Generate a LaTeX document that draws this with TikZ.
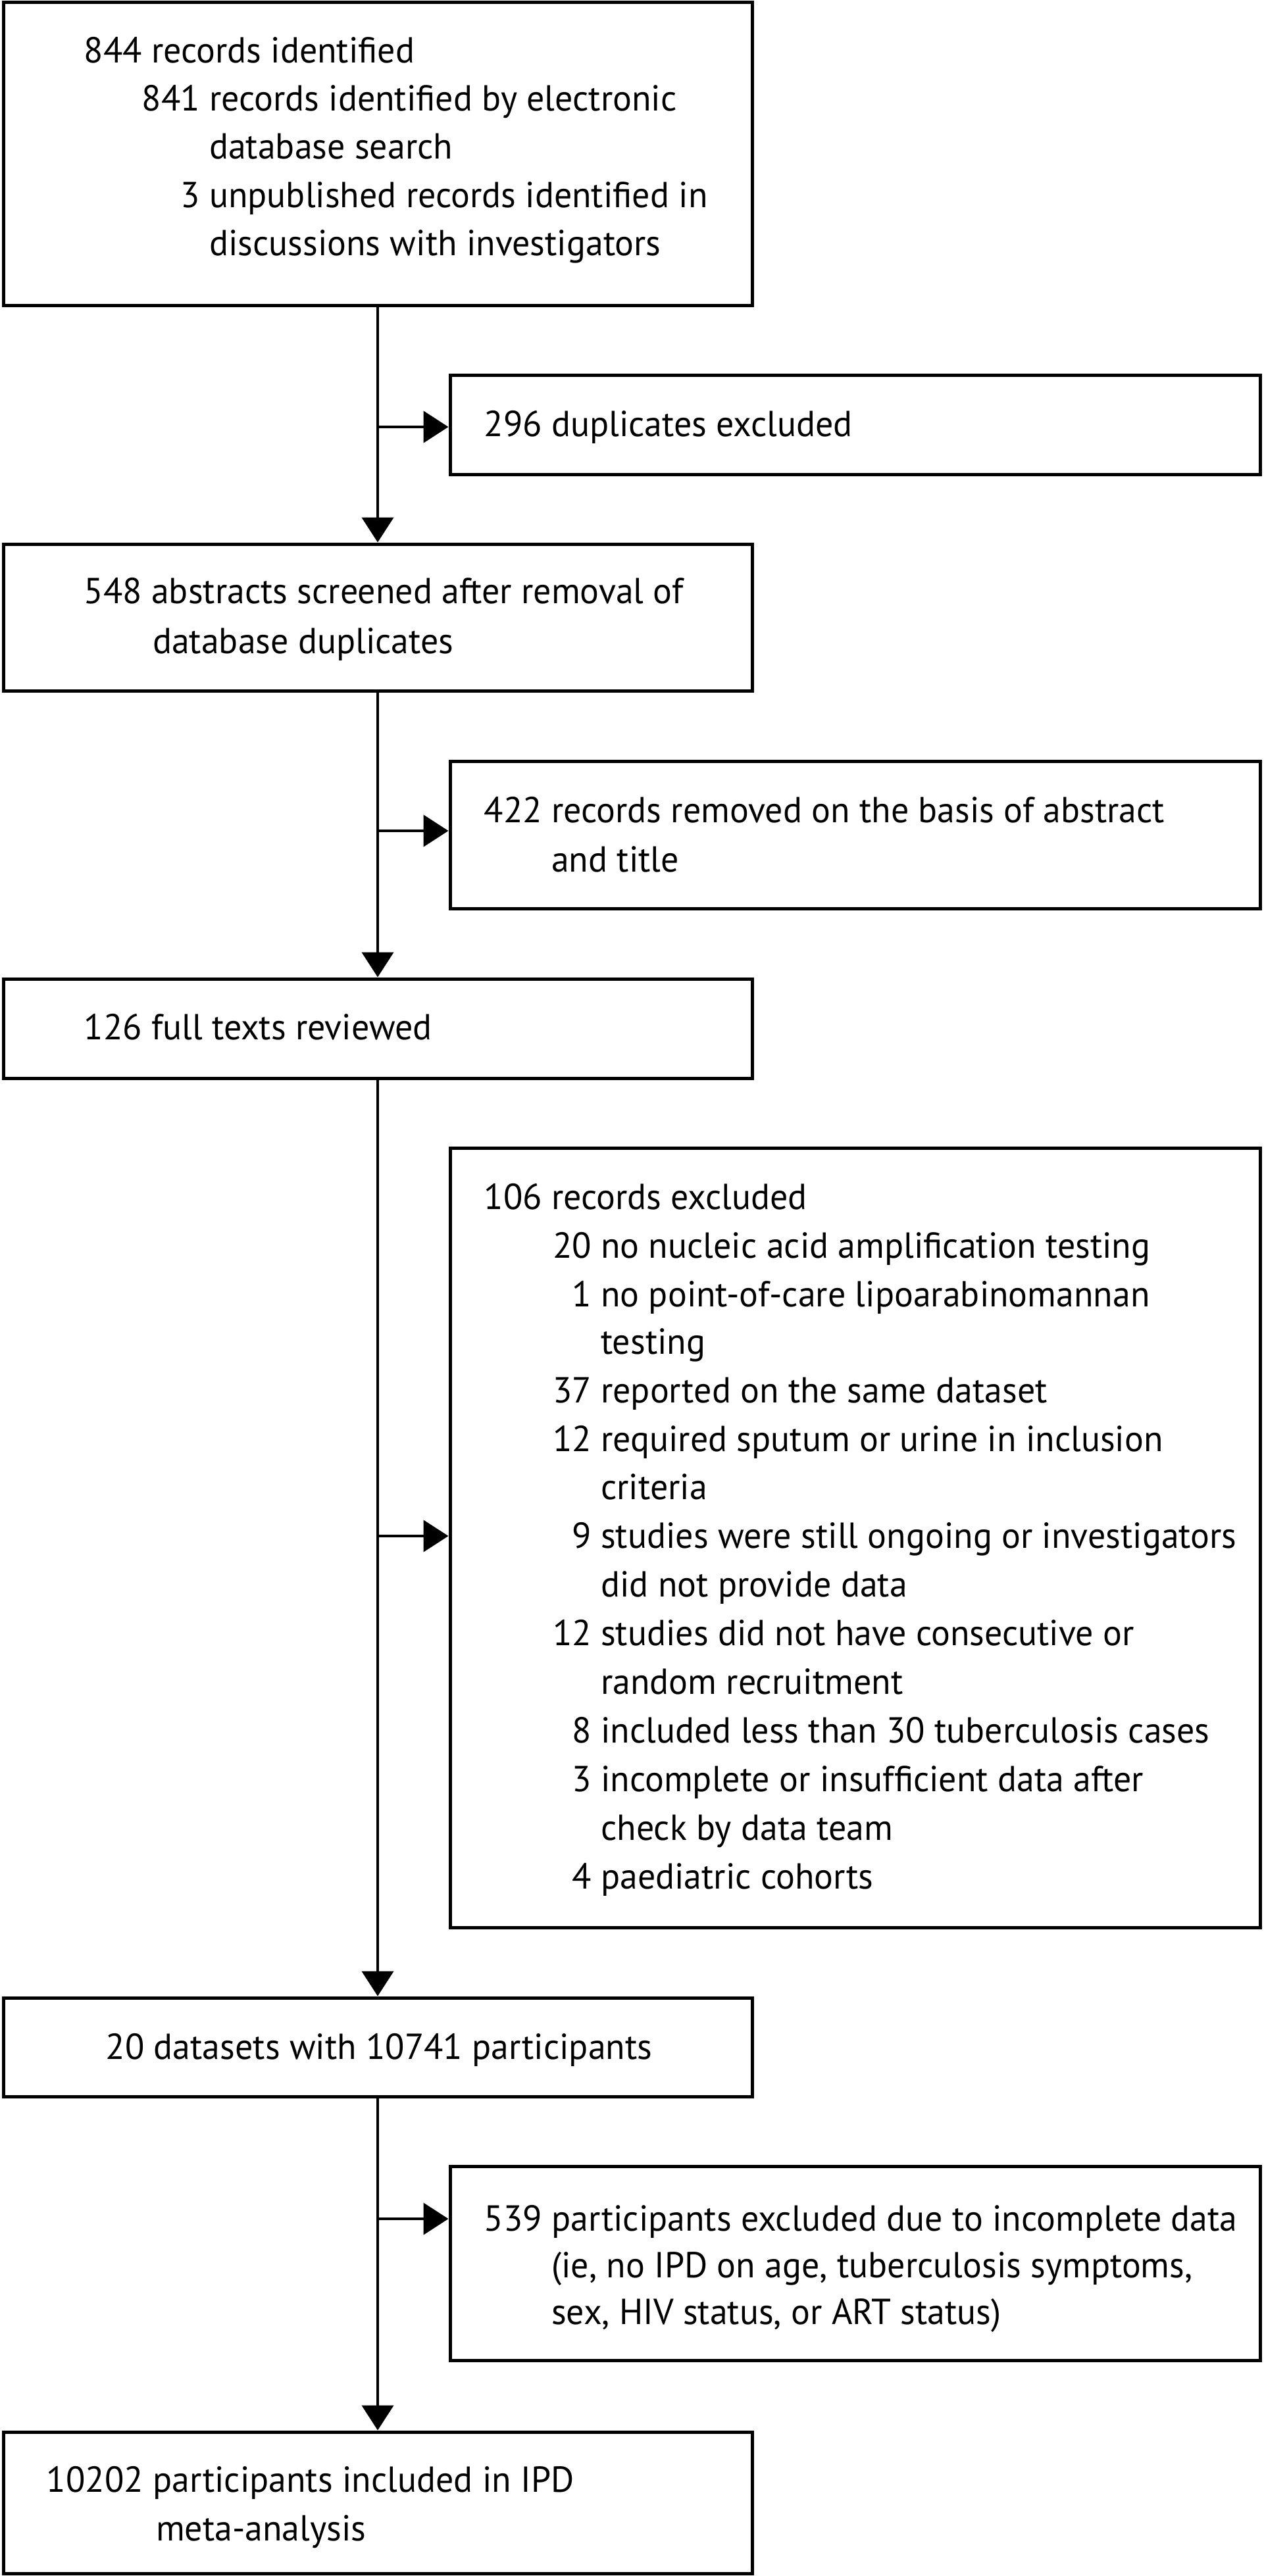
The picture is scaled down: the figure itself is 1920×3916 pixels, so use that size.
\documentclass[tikz,border=0pt]{standalone}
\usepackage{fontspec}
\setmainfont{PT Sans}[FakeStretch=0.98]
\usetikzlibrary{arrows.meta}
\begin{document}
\begin{tikzpicture}[x=1pt,y=-1pt,
  box/.style={draw=black, line width=5pt, inner sep=0pt, fill=white},
  conn/.style={draw=black, line width=4.5pt},
  arr/.style={conn, -{Triangle[length=38pt,width=48pt]}},
  txt/.style={anchor=base west, inner sep=0pt, font=\fontsize{55}{66}\selectfont},
  ctxt/.style={anchor=base, inner sep=0pt, font=\fontsize{55}{66}\selectfont},
]
\useasboundingbox (0,0) rectangle (1920,3916);
\fill[white] (0,0) rectangle (1920,3916);

% boxes
\node[box, minimum width=1138pt, minimum height=461pt]  (b1) at (574,233.5) {};
\node[box, minimum width=1231pt, minimum height=151pt]  (b2) at (1299.5,645.5) {};
\node[box, minimum width=1138pt, minimum height=223pt]  (b3) at (574,938.5) {};
\node[box, minimum width=1231pt, minimum height=224pt]  (b4) at (1299.5,1269) {};
\node[box, minimum width=1138pt, minimum height=151pt]  (b5) at (574,1563.5) {};
\node[box, minimum width=1231pt, minimum height=1185pt] (b6) at (1299.5,2337.5) {};
\node[box, minimum width=1138pt, minimum height=150pt]  (b7) at (574,3112) {};
\node[box, minimum width=1231pt, minimum height=295pt]  (b8) at (1299.5,3440.5) {};
\node[box, minimum width=1138pt, minimum height=215pt]  (b9) at (574,3804.5) {};

% connectors
\draw[arr] (b1.south) -- (b3.north);
\draw[arr] (b3.south) -- (b5.north);
\draw[arr] (b5.south) -- (b7.north);
\draw[arr] (b7.south) -- (b9.north);
\coordinate (j1) at (574,649);
\coordinate (j2) at (574,1263);
\coordinate (j3) at (574,2335);
\coordinate (j4) at (574,3373);
\draw[arr] (j1) -- (j1 -| b2.west);
\draw[arr] (j2) -- (j2 -| b4.west);
\draw[arr] (j3) -- (j3 -| b6.west);
\draw[arr] (j4) -- (j4 -| b8.west);

% box 1
\node[txt] (t1a) at (230,95)  {\llap{844\ }records identified};
\node[txt] (t1b) at (318,168) {\llap{841\ }records identified by electronic};
\node[txt] (t1c) at (318,241) {database search};
\node[txt] (t1d) at (318,315) {\llap{3\ }unpublished records identified in};
\node[txt] (t1e) at (318,388) {discussions with investigators};
% box 2
\node[txt] (t2a) at (838,663) {\llap{296\ }duplicates excluded};
% box 3
\node[txt] (t3a) at (230,917) {\llap{548\ }abstracts screened after removal of};
\node[txt] (t3b) at (232,993) {database duplicates};
% box 4
\node[txt] (t4a) at (838,1250) {\llap{422\ }records removed on the basis of abstract};
\node[txt] (t4b) at (838,1325) {and title};
% box 5
\node[txt] (t5a) at (230,1580) {\llap{126\ }full texts reviewed};
% box 6
\node[txt] (t6a) at (838,1838) {\llap{106\ }records excluded};
\node[txt] (t6b) at (913,1912) {\llap{20\ }no nucleic acid amplification testing};
\node[txt] (t6c) at (913,1986) {\llap{1\ }no point-of-care lipoarabinomannan};
\node[txt] (t6d) at (913,2058) {testing};
\node[txt] (t6e) at (913,2132) {\llap{37\ }reported on the same dataset};
\node[txt] (t6f) at (913,2206) {\llap{12\ }required sputum or urine in inclusion};
\node[txt] (t6g) at (913,2279) {criteria};
\node[txt] (t6h) at (913,2353) {\llap{9\ }studies were still ongoing or investigators};
\node[txt] (t6i) at (913,2427) {did not provide data};
\node[txt] (t6j) at (913,2501) {\llap{12\ }studies did not have consecutive or};
\node[txt] (t6k) at (913,2575) {random recruitment};
\node[txt] (t6l) at (913,2649) {\llap{8\ }included less than 30 tuberculosis cases};
\node[txt] (t6m) at (913,2723) {\llap{3\ }incomplete or insufficient data after};
\node[txt] (t6n) at (913,2797) {check by data team};
\node[txt] (t6o) at (913,2871) {\llap{4\ }paediatric cohorts};
% box 7
\node[ctxt] (t7a) at (576,3130) {20 datasets with 10741 participants};
% box 8
\node[txt] (t8a) at (838,3391) {\llap{539\ }participants excluded due to incomplete data};
\node[txt] (t8b) at (838,3462) {(ie, no IPD on age, tuberculosis symptoms,};
\node[txt] (t8c) at (838,3533) {sex, HIV status, or ART status)};
% box 9
\node[txt] (t9a) at (232,3788) {\llap{10202\ }participants included in IPD};
\node[txt] (t9b) at (237,3862) {meta-analysis};
\end{tikzpicture}
\end{document}
